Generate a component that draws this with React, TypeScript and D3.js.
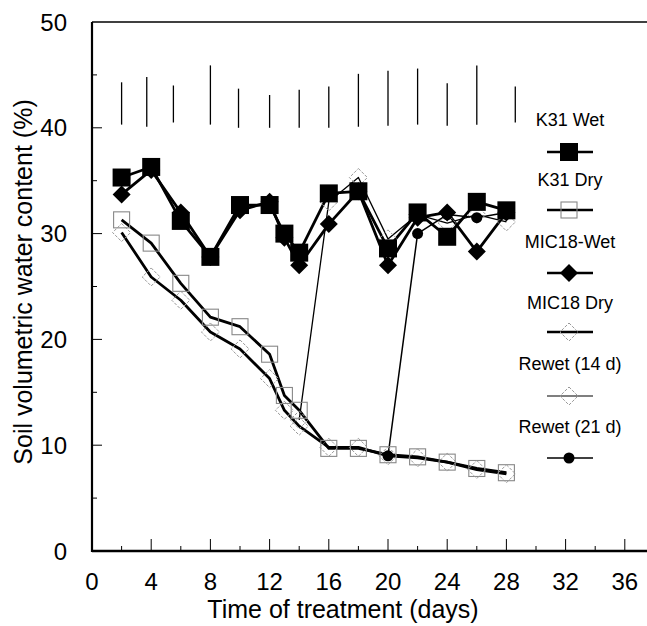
import React from "react";
import * as d3 from "d3";

// days on which each treatment was measured
const wetDays = [2, 4, 6, 8, 10, 12, 13, 14, 16, 18, 20, 22, 24, 26, 28];
const k31Wet = [35.3, 36.3, 31.2, 27.8, 32.7, 32.7, 30.0, 28.2, 33.8, 34.0, 28.6, 32.0, 29.7, 33.0, 32.2];
const mic18Wet = [33.7, 36.0, 32.0, 27.8, 32.2, 33.0, 29.6, 27.0, 30.9, 34.0, 27.0, 31.5, 32.0, 28.3, 32.0];
const k31Dry = [31.3, 29.1, 25.3, 22.1, 21.2, 18.6, 14.7, 13.3, 9.7, 9.7, 9.1, 8.9, 8.4, 7.8, 7.4];
const mic18Dry = [30.1, 25.9, 23.7, 20.7, 19.1, 16.3, 13.3, 11.8, 9.8, 9.8, 9.0, 8.8, 8.4, 7.7, 7.3];

const rewet14Days = [14, 16, 18, 20, 22, 24, 26, 28];
const rewet14 = [12.4, 33.0, 35.3, 29.5, 31.8, 31.0, 31.8, 31.1];
const rewet21Days = [20, 22, 24, 26, 28];
const rewet21 = [9.0, 30.0, 31.8, 31.5, 32.0];

// LSD bars along the top
const barDays = [2, 3.7, 5.5, 8, 9.9, 12, 14, 16, 18, 20, 22, 24, 26, 28.6];
const barLow = [40.3, 40.1, 40.5, 40.3, 40.0, 40.0, 40.0, 40.0, 40.1, 40.2, 40.3, 40.2, 40.3, 40.5];
const barHigh = [44.3, 44.8, 44.0, 45.9, 43.7, 43.1, 43.6, 43.9, 45.1, 45.4, 45.6, 44.2, 45.9, 43.9];

const xTicks = [0, 4, 8, 12, 16, 20, 24, 28, 32, 36];
const yTicks = [0, 10, 20, 30, 40, 50];
const legendLabels = ["K31 Wet", "K31 Dry", "MIC18-Wet", "MIC18 Dry", "Rewet (14 d)", "Rewet (21 d)"];

const font = "Arial, 'Liberation Sans', sans-serif";

type Pt = [number, number];

const Marker = ({ kind, x, y }: { kind: string; x: number; y: number }) => {
  if (kind === "fsq") return <rect x={x - 9} y={y - 9} width={18} height={18} fill="#000" />;
  if (kind === "osq")
    return <rect x={x - 8} y={y - 8} width={16} height={16} fill="none" stroke="#888" strokeWidth={1.1} />;
  if (kind === "fdi")
    return <path d={`M${x},${y - 9}L${x + 9},${y}L${x},${y + 9}L${x - 9},${y}Z`} fill="#000" />;
  if (kind === "odi")
    return (
      <path
        d={`M${x},${y - 9}L${x + 9},${y}L${x},${y + 9}L${x - 9},${y}Z`}
        fill="none"
        stroke="#999"
        strokeWidth={1}
        strokeDasharray="3,1.5"
      />
    );
  return <circle cx={x} cy={y} r={5.5} fill="#000" />;
};

export default function App() {
  const width = 647;
  const height = 626;

  const x = d3.scaleLinear().domain([0, 37.5]).range([92, 647]);
  const y = d3.scaleLinear().domain([0, 50]).range([551, 22]);

  const line = d3
    .line<Pt>()
    .x((d) => x(d[0]))
    .y((d) => y(d[1]));

  const pts = (days: number[], vals: number[]): Pt[] => days.map((d, i) => [d, vals[i]]);

  const series = [
    { data: pts(wetDays, k31Dry), kind: "osq", sw: 2.8 },
    { data: pts(wetDays, mic18Dry), kind: "odi", sw: 2.8 },
    { data: pts(rewet14Days, rewet14), kind: "odi", sw: 1.3 },
    { data: pts(rewet21Days, rewet21), kind: "cir", sw: 1.5 },
    { data: pts(wetDays, mic18Wet), kind: "fdi", sw: 2.8 },
    { data: pts(wetDays, k31Wet), kind: "fsq", sw: 2.8 },
  ];

  const legendKinds = ["fsq", "osq", "fdi", "odi", "odi", "cir"];
  const legendSw = [2.5, 2.5, 2.5, 2.5, 1.2, 1.5];
  const legendTextY = [120, 180, 242, 303, 364, 427];
  const legendSymY = [152, 210, 273, 332, 396, 458];

  const xMinor = d3.range(2, 38, 2).filter((d) => d % 4 !== 0);
  const yMinor = d3.range(5, 50, 10);

  return (
    <svg width={width} height={height} style={{ position: "absolute", left: 0, top: 0, background: "#fff" }}>
      <rect width={width} height={height} fill="#fff" />

      {/* error bars */}
      {barDays.map((d, i) => (
        <line key={"b" + i} x1={x(d)} x2={x(d)} y1={y(barLow[i])} y2={y(barHigh[i])} stroke="#000" strokeWidth={1.3} />
      ))}

      {/* series lines */}
      {series.map((s, i) => (
        <path key={"l" + i} d={line(s.data) || ""} fill="none" stroke="#000" strokeWidth={s.sw} strokeLinejoin="round" />
      ))}
      {series.map((s, i) =>
        s.data.map((p, j) => <Marker key={"m" + i + "-" + j} kind={s.kind} x={x(p[0])} y={y(p[1])} />)
      )}

      {/* axes */}
      <line x1={x(0)} x2={x(0)} y1={y(50)} y2={y(0) + 1} stroke="#000" strokeWidth={2.2} />
      <line x1={x(0)} x2={width} y1={y(0)} y2={y(0)} stroke="#000" strokeWidth={2.5} />
      <line x1={x(0)} x2={width} y1={y(50)} y2={y(50)} stroke="#000" strokeWidth={1.5} />

      {yTicks.slice(1, -1).map((t) => (
        <line key={"yt" + t} x1={x(0)} x2={x(0) + 10} y1={y(t)} y2={y(t)} stroke="#000" strokeWidth={1} />
      ))}
      {yMinor.map((t) => (
        <line key={"ym" + t} x1={x(0)} x2={x(0) + 5} y1={y(t)} y2={y(t)} stroke="#000" strokeWidth={1} />
      ))}
      {xTicks.slice(1).map((t) => (
        <line key={"xt" + t} x1={x(t)} x2={x(t)} y1={y(0)} y2={y(0) - 12} stroke="#000" strokeWidth={1} />
      ))}
      {xMinor.map((t) => (
        <line key={"xm" + t} x1={x(t)} x2={x(t)} y1={y(0)} y2={y(0) - 5} stroke="#000" strokeWidth={1} />
      ))}

      {yTicks.map((t) => (
        <text key={"yl" + t} x={67} y={y(t)} dy="0.36em" textAnchor="end" fontFamily={font} fontSize={24}>
          {t}
        </text>
      ))}
      {xTicks.map((t) => (
        <text key={"xl" + t} x={x(t)} y={590} textAnchor="middle" fontFamily={font} fontSize={24}>
          {t}
        </text>
      ))}

      <text x={343} y={618} textAnchor="middle" fontFamily={font} fontSize={25}>
        Time of treatment (days)
      </text>
      <text
        transform={`translate(32,282) rotate(-90)`}
        textAnchor="middle"
        fontFamily={font}
        fontSize={25}
      >
        Soil volumetric water content (%)
      </text>

      {/* legend */}
      {legendLabels.map((lab, i) => (
        <g key={"lg" + i}>
          <text x={570} y={legendTextY[i]} dy="0.36em" textAnchor="middle" fontFamily={font} fontSize={18}>
            {lab}
          </text>
          <line x1={547} x2={593} y1={legendSymY[i]} y2={legendSymY[i]} stroke="#000" strokeWidth={legendSw[i]} />
          <Marker kind={legendKinds[i]} x={569} y={legendSymY[i]} />
        </g>
      ))}
    </svg>
  );
}
